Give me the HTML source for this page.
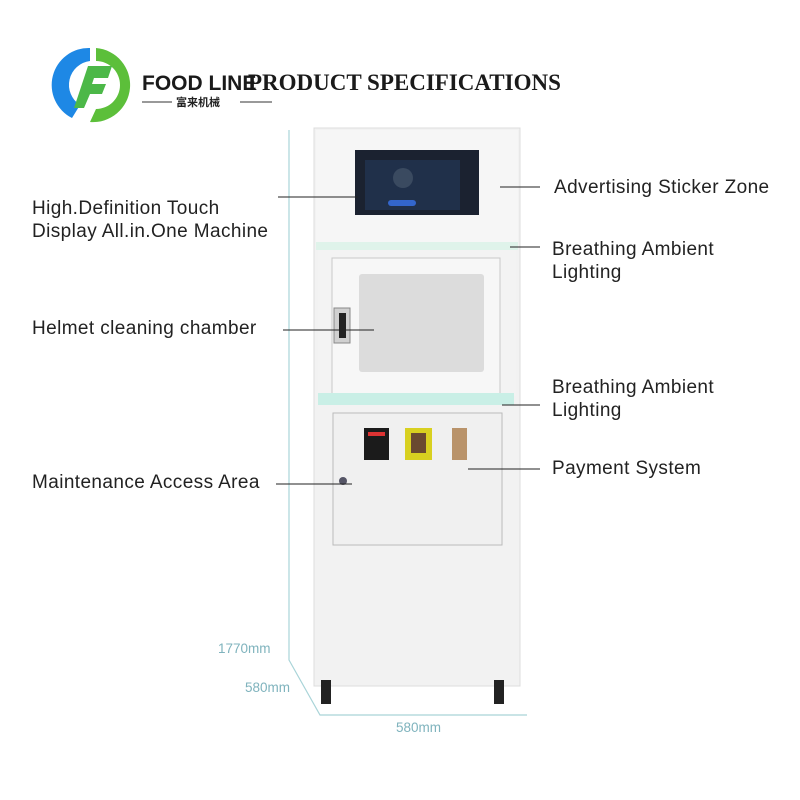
<!DOCTYPE html>
<html><head><meta charset="utf-8"><style>
body{margin:0;background:#fff;}
.c{position:relative;width:800px;height:800px;overflow:hidden;background:#fff;font-family:"Liberation Sans",sans-serif;}
.l{position:absolute;font-size:19px;letter-spacing:0.4px;color:#222;line-height:23px;}
.d{position:absolute;font-size:13.5px;color:#7fb3bd;}
</style></head><body><div class="c">
<svg width="800" height="800" style="position:absolute;left:0;top:0">
<path d="M90 48 A37 37 0 0 0 72 118 L80 105 A24 24 0 0 1 90 61 Z" fill="#1e88e5"/>
<path d="M96 48 A37 37 0 0 1 90 122 L96 109 A24 24 0 0 0 96 61 Z" fill="#5cbf3a"/>
<path d="M88 66 L112 66 L108 78 L94 78 L92 84 L106 84 L102 94 L90 94 L84 108 L74 108 Z" fill="#4cb848"/>
<text x="142" y="90" font-family="Liberation Sans" font-weight="bold" font-size="21" fill="#1a1a1a">FOOD LINE</text>
<line x1="142" y1="102" x2="172" y2="102" stroke="#333"/><line x1="240" y1="102" x2="272" y2="102" stroke="#333"/>
<text x="176" y="106" font-family="Noto Sans CJK SC,sans-serif" font-size="11" font-weight="bold" fill="#222">富来机械</text>
<text x="248" y="90" font-family="Liberation Serif" font-weight="bold" font-size="23" fill="#1a1a1a">PRODUCT SPECIFICATIONS</text>
<polyline points="289,130 289,660 320,715 527,715" fill="none" stroke="#a9d4d8" stroke-width="1.2"/>
<rect x="314" y="128" width="206" height="558" fill="#f2f2f2" stroke="#ddd"/>
<rect x="316" y="130" width="202" height="114" fill="#f6f6f6"/>
<rect x="355" y="150" width="124" height="65" fill="#1b2230"/>
<rect x="365" y="160" width="95" height="50" fill="#20304a"/>
<circle cx="403" cy="178" r="10" fill="#3a4a60"/>
<rect x="388" y="200" width="28" height="6" rx="3" fill="#3366cc"/>
<rect x="316" y="242" width="202" height="8" fill="#dff3ea"/>
<rect x="318" y="250" width="198" height="146" fill="#f3f3f3"/>
<rect x="332" y="258" width="168" height="137" fill="#f7f7f7" stroke="#c8c8c8"/>
<rect x="359" y="274" width="125" height="98" rx="3" fill="#dcdcdc"/>
<rect x="334" y="308" width="16" height="35" fill="#d0d0d0" stroke="#888"/>
<rect x="339" y="313" width="7" height="25" fill="#222"/>
<rect x="318" y="393" width="196" height="12" fill="#c9efe6"/>
<rect x="333" y="413" width="169" height="132" fill="#f0f0f0" stroke="#bbb"/>
<rect x="364" y="428" width="25" height="32" fill="#1b1b1b"/>
<rect x="368" y="432" width="17" height="4" fill="#d33"/>
<rect x="405" y="428" width="27" height="32" fill="#d8d020"/>
<rect x="411" y="433" width="15" height="20" fill="#6a4a30"/>
<rect x="452" y="428" width="15" height="32" fill="#b9936a"/>
<circle cx="343" cy="481" r="4" fill="#556"/>
<rect x="321" y="680" width="10" height="24" fill="#222"/>
<rect x="494" y="680" width="10" height="24" fill="#222"/>
<g stroke="#222" stroke-width="1">
<line x1="278" y1="197" x2="358" y2="197"/>
<line x1="500" y1="187" x2="540" y2="187"/>
<line x1="510" y1="247" x2="540" y2="247"/>
<line x1="283" y1="330" x2="374" y2="330"/>
<line x1="502" y1="405" x2="540" y2="405"/>
<line x1="276" y1="484" x2="352" y2="484"/>
<line x1="468" y1="469" x2="540" y2="469"/>
</g>
</svg>
<div class="l" style="left:32px;top:197px">High.Definition Touch<br>Display All.in.One Machine</div>
<div class="l" style="left:554px;top:176px">Advertising Sticker Zone</div>
<div class="l" style="left:552px;top:238px">Breathing Ambient<br>Lighting</div>
<div class="l" style="left:32px;top:317px">Helmet cleaning chamber</div>
<div class="l" style="left:552px;top:376px">Breathing Ambient<br>Lighting</div>
<div class="l" style="left:552px;top:457px">Payment System</div>
<div class="l" style="left:32px;top:471px">Maintenance Access Area</div>
<div class="d" style="left:218px;top:641px">1770mm</div>
<div class="d" style="left:245px;top:680px">580mm</div>
<div class="d" style="left:396px;top:720px">580mm</div>
</div></body></html>
